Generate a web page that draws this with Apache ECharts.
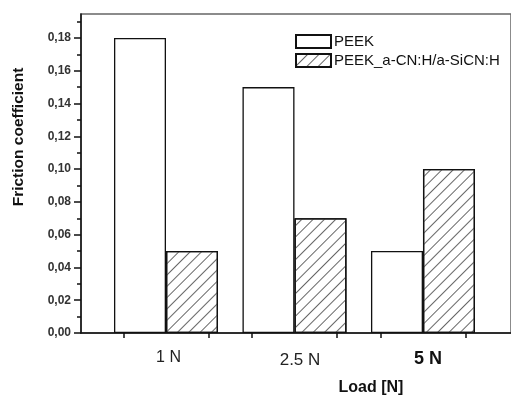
<!DOCTYPE html>
<html><head><meta charset="utf-8">
<script src="https://cdn.jsdelivr.net/npm/echarts@6/dist/echarts.min.js"></script>
<style>html,body{margin:0;padding:0;background:#fff}#c{width:511px;height:396px}</style>
</head><body><div id="c"></div>
<script>
const categories = ['1 N', '2.5 N', '5 N'];
const groupPositions = [1, 2, 3];
const peek = [0.18, 0.15, 0.05];
const coated = [0.05, 0.07, 0.10];
const xTickValues = [0.67, 1.33, 1.67, 2.33, 2.67, 3.33];
const yMajorTicks = [0, 0.02, 0.04, 0.06, 0.08, 0.10, 0.12, 0.14, 0.16, 0.18];
const yMinorTicks = [0.01, 0.03, 0.05, 0.07, 0.09, 0.11, 0.13, 0.15, 0.17, 0.19];
const seriesNames = ['PEEK', 'PEEK_a-CN:H/a-SiCN:H'];

const chart = echarts.init(document.getElementById('c'), null, {renderer: 'canvas'});
const FONT = 'Liberation Sans, Arial, sans-serif';
const yCommon = {
  type: 'value', min: 0, max: 0.1946, position: 'left',
  splitLine: {show: false}
};
chart.setOption({
  animation: false,
  backgroundColor: '#fff',
  grid: {left: 81, top: 14, right: -5, bottom: 63, show: true, borderColor: '#666', borderWidth: 1.5, containLabel: false},
  legend: {
    orient: 'vertical', left: 290, top: 29, itemWidth: 35, itemHeight: 13, itemGap: 4,
    data: seriesNames,
    textStyle: {fontFamily: FONT, fontSize: 15, color: '#111', padding: [0, 0, 0, -2]},
    icon: 'rect'
  },
  xAxis: {
    type: 'value', min: 0.3385, max: 3.685,
    splitLine: {show: false},
    axisLine: {show: true, onZero: false, lineStyle: {color: '#111', width: 1.5}},
    axisTick: {show: true, length: 5, customValues: xTickValues, lineStyle: {color: '#111', width: 1.5}},
    axisLabel: {
      customValues: groupPositions, margin: 17,
      formatter: function (v) {
        const i = groupPositions.indexOf(v);
        const s = ['a', 'b', 'c'][i];
        return '{' + s + '|' + categories[i] + '}';
      },
      rich: {
        a: {fontFamily: FONT, fontSize: 16, color: '#222', padding: [0, 0, 0, 5]},
        b: {fontFamily: FONT, fontSize: 17, color: '#222', padding: [2, 0, 0, 11]},
        c: {fontFamily: FONT, fontSize: 18, fontWeight: 'bold', color: '#111', padding: [0, 0, 0, 10]}
      }
    }
  },
  yAxis: [
    Object.assign({}, yCommon, {
      axisLine: {show: true, lineStyle: {color: '#111', width: 1.5}},
      axisTick: {show: true, length: 7, customValues: yMajorTicks, lineStyle: {color: '#111', width: 1.5}},
      axisLabel: {
        customValues: yMajorTicks, margin: 10,
        fontFamily: FONT, fontSize: 12, fontWeight: 'bold', color: '#333',
        formatter: v => v.toFixed(2).replace('.', ',')
      }
    }),
    Object.assign({}, yCommon, {
      axisLine: {show: false},
      axisTick: {show: true, length: 4, customValues: yMinorTicks, lineStyle: {color: '#111', width: 1.5}},
      axisLabel: {show: false}
    })
  ],
  graphic: [
    {type: 'text', x: 371, y: 388, style: {text: 'Load [N]', font: 'bold 16px ' + FONT, fill: '#111', align: 'center', verticalAlign: 'middle'}},
    {type: 'text', x: 18.5, y: 137, rotation: Math.PI / 2, style: {text: 'Friction coefficient', font: 'bold 15.5px ' + FONT, fill: '#111', align: 'center', verticalAlign: 'middle'}}
  ],
  series: [
    {
      name: seriesNames[0], type: 'bar', barWidth: 52, barGap: '0%',
      data: groupPositions.map((x, i) => [x, peek[i]]),
      itemStyle: {color: '#fff', borderColor: '#111', borderWidth: 1.3}
    },
    {
      name: seriesNames[1], type: 'bar', barWidth: 52, barGap: '0%',
      data: groupPositions.map((x, i) => [x, coated[i]]),
      itemStyle: {
        color: '#fff', borderColor: '#111', borderWidth: 1.3,
        decal: {symbol: 'rect', dashArrayX: [1, 0], dashArrayY: [1, 7], rotation: -Math.PI / 4, color: '#666', symbolSize: 1}
      }
    }
  ]
});
</script></body></html>
